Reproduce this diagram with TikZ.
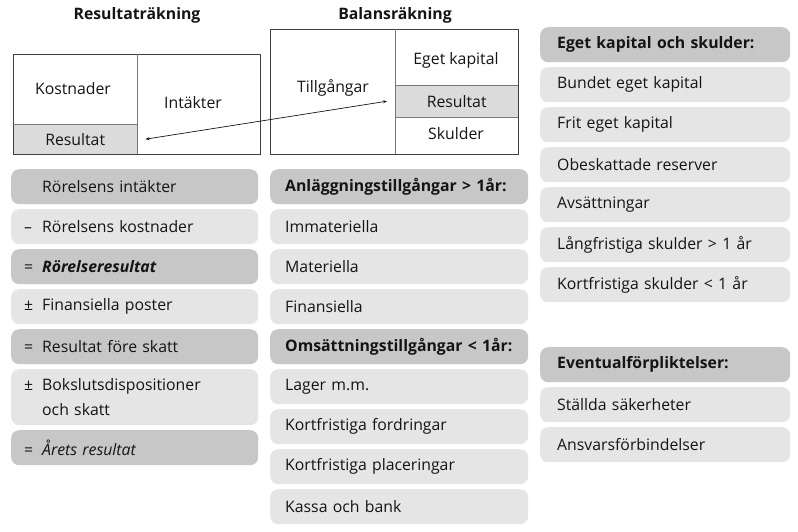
\documentclass[tikz,border=0pt]{standalone}
\usepackage{fontspec}
\setmainfont{Open Sans}
\usetikzlibrary{arrows.meta}

\definecolor{boxdark}{gray}{0.78}
\definecolor{boxlight}{gray}{0.90}
\definecolor{cellgray}{gray}{0.86}
\definecolor{framegray}{gray}{0.25}
\definecolor{inkgray}{gray}{0.08}

\newcommand{\pre}[1]{\makebox[18pt][l]{#1}}
\newcommand{\bodyfont}{\fontsize{15.8}{25}\selectfont}

\tikzset{
  listbox/.style={rounded corners=8pt, anchor=north west, minimum height=35pt,
    align=left, text=inkgray, inner xsep=0pt},
  leftbox/.style={listbox, text width=247pt, execute at begin node=\hspace*{13pt}},
  midbox/.style={listbox, text width=258pt, execute at begin node=\hspace*{15pt}},
  rightbox/.style={listbox, text width=250pt, execute at begin node=\hspace*{17pt}},
  cellfill/.style={fill=cellgray, anchor=north west, text=inkgray},
  title/.style={font=\bodyfont\bfseries, text=inkgray}
}

\begin{document}
\begin{tikzpicture}[x=1pt,y=-1pt,font=\bodyfont]
\useasboundingbox (0,0) rectangle (798,531);

% Titles
\node[title] (titleR) at (137,15) {Resultaträkning};
\node[title] (titleB) at (395,15) {Balansräkning};

% Resultat cells
\node[cellfill, minimum width=124pt, minimum height=30pt] (resL) at (13,124) {Resultat};
\node[cellfill, minimum width=123pt, minimum height=32pt] (resB) at (395,85) {Resultat};

% Result statement frame
\draw[framegray, line width=1pt] (13,54) rectangle (260,154);
\draw[framegray!70, line width=0.8pt] (137,54) -- (137,154);
\draw[framegray!70, line width=0.8pt] (13,124) -- (137,124);
\node[text=inkgray] (kost) at (73,89) {Kostnader};
\node[text=inkgray] (intakt) at (193,103) {Intäkter};

% Balance sheet frame
\draw[framegray, line width=1pt] (270,29) rectangle (518,154);
\draw[framegray!70, line width=0.8pt] (395,29) -- (395,154);
\draw[framegray!70, line width=0.8pt] (395,85) -- (518,85);
\draw[framegray!70, line width=0.8pt] (395,117) -- (518,117);
\node[text=inkgray] (tillg) at (333,88) {Tillgångar};
\node[text=inkgray] (eget) at (456,60) {Eget kapital};
\node[text=inkgray] (skuld) at (456,134) {Skulder};

% Arrow between the two Resultat cells
\draw[inkgray, line width=0.7pt, {Stealth[length=4pt,width=3pt]}-{Stealth[length=4pt,width=3pt]}]
  ([xshift=8pt]resL.east) -- ([xshift=-8pt]resB.west);

% Left column
\foreach \y/\fillc/\txt [count=\i] in {
  169/boxdark/{\pre{}Rörelsens intäkter},
  209/boxlight/{\pre{–}Rörelsens kostnader},
  249/boxdark/{\pre{=}\textbf{\textit{Rörelseresultat}}},
  289/boxlight/{\pre{±}Finansiella poster},
  329/boxdark/{\pre{=}Resultat före skatt},
  430/boxdark/{\pre{=}\textit{Årets resultat}}}
  \node[leftbox, fill=\fillc] (res\i) at (11,\y) {\txt};
\node[leftbox, fill=boxlight, minimum height=56pt] (res7) at (11,369)
  {\pre{±}Bokslutsdispositioner\\\hspace*{13pt}\pre{}och skatt};

% Middle column
\foreach \fillc/\txt [count=\i] in {
  boxdark/{\bfseries Anläggningstillgångar > 1år:},
  boxlight/Immateriella,
  boxlight/Materiella,
  boxlight/Finansiella,
  boxdark/{\bfseries Omsättningstillgångar < 1år:},
  boxlight/Lager m.m.,
  boxlight/Kortfristiga fordringar,
  boxlight/Kortfristiga placeringar,
  boxlight/Kassa och bank}
  \node[midbox, fill=\fillc] (bal\i) at (270,{129+40*\i}) {\txt};

% Right column
\foreach \fillc/\txt [count=\i] in {
  boxdark/{\bfseries Eget kapital och skulder:},
  boxlight/Bundet eget kapital,
  boxlight/Frit eget kapital,
  boxlight/Obeskattade reserver,
  boxlight/Avsättningar,
  boxlight/Långfristiga skulder > 1 år,
  boxlight/Kortfristiga skulder < 1 år}
  \node[rightbox, fill=\fillc] (ek\i) at (540,{-13+40*\i}) {\txt};
\foreach \fillc/\txt [count=\i] in {
  boxdark/{\bfseries Eventualförpliktelser:},
  boxlight/Ställda säkerheter,
  boxlight/Ansvarsförbindelser}
  \node[rightbox, fill=\fillc] (ev\i) at (540,{307+40*\i}) {\txt};

\end{tikzpicture}
\end{document}
